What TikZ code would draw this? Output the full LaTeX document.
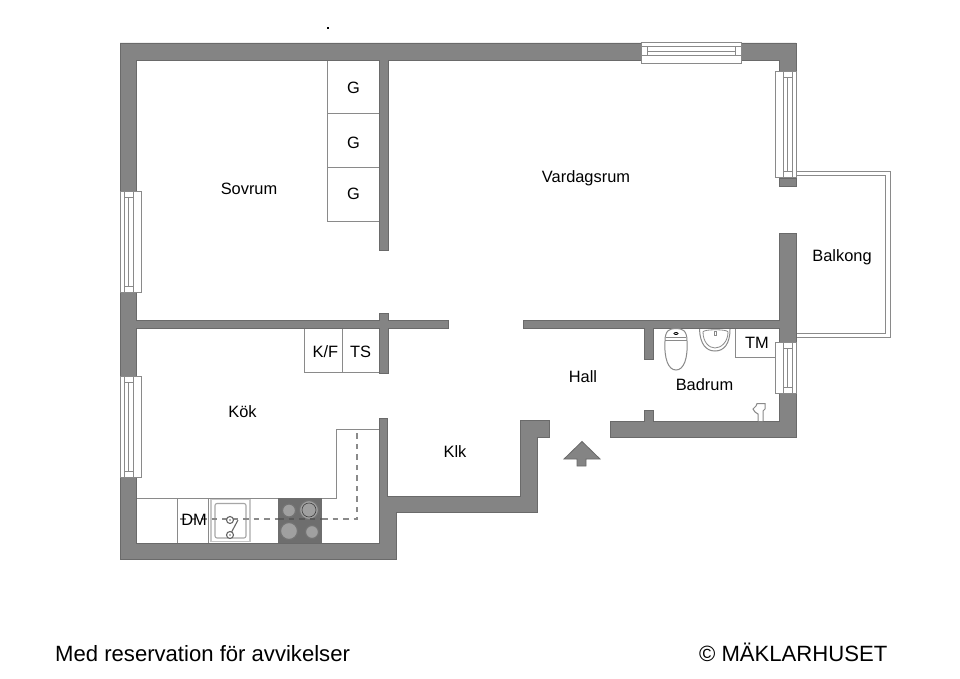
\documentclass[tikz,border=0pt]{standalone}
\usepackage{fontspec}
\setmainfont{Liberation Sans}
\definecolor{wallfill}{HTML}{848484}
\definecolor{walledge}{HTML}{6A6A6A}
\definecolor{thin}{HTML}{8A8A8A}
\definecolor{stovedark}{HTML}{6E6E6E}
\definecolor{burner}{HTML}{A0A0A0}
\tikzset{
  wall/.style={fill=wallfill,draw=walledge,line width=0.8pt,line join=miter},
  fixture/.style={draw=thin,line width=1pt,fill=white},
  winline/.style={draw=thin,line width=1pt},
  lbl/.style={font=\fontsize{16.4}{19}\selectfont,text=black,inner sep=0pt},
  foot/.style={font=\fontsize{22.1}{26}\selectfont,text=black,inner sep=0pt},
  dashline/.style={draw=thin,line width=1.3pt,dash pattern=on 5.5pt off 5pt},
}
% horizontal window: x0, x1, outer y, direction of the inside
\newcommand{\winH}[4]{%
  \draw[fixture] (#1,#3) rectangle (#2,{#3+#4*21});
  \draw[winline] (#1,{#3+#4*4}) -- (#2,{#3+#4*4});
  \draw[winline] (#1,{#3+#4*13}) -- (#2,{#3+#4*13});
  \draw[winline] ({#1+6},{#3+#4*8.5}) -- ({#2-6},{#3+#4*8.5});
  \draw[winline] ({#1+6},{#3+#4*4}) -- ({#1+6},{#3+#4*13});
  \draw[winline] ({#2-6},{#3+#4*4}) -- ({#2-6},{#3+#4*13});
}
% vertical window: y0, y1, outer x, direction of the inside
\newcommand{\winV}[4]{%
  \draw[fixture] (#3,#1) rectangle ({#3+#4*21},#2);
  \draw[winline] ({#3+#4*4},#1) -- ({#3+#4*4},#2);
  \draw[winline] ({#3+#4*13},#1) -- ({#3+#4*13},#2);
  \draw[winline] ({#3+#4*8.5},{#1+6}) -- ({#3+#4*8.5},{#2-6});
  \draw[winline] ({#3+#4*4},{#1+6}) -- ({#3+#4*13},{#1+6});
  \draw[winline] ({#3+#4*4},{#2-6}) -- ({#3+#4*13},{#2-6});
}
\begin{document}
\begin{tikzpicture}[x=1pt,y=-1pt]
\useasboundingbox (0,0) rectangle (960,679);
\fill[white] (0,0) rectangle (960,679);
\fill[black] (327,27.5) rectangle (329,29);

% balcony
\draw[winline] (796,171.5) -- (890,171.5) -- (890,337) -- (796,337);
\draw[winline] (796,176) -- (885.5,176) -- (885.5,333) -- (796,333);

% closets and kitchen furniture
\draw[fixture] (327,60) rectangle (380,114);
\draw[fixture] (327,114) rectangle (380,167.5);
\draw[fixture] (327,167.5) rectangle (380,221);
\draw[fixture] (304,328) rectangle (342,372);
\draw[fixture] (342,328) rectangle (380,372);
\draw[fixture] (735,328) rectangle (779,357);
\draw[fixture] (136,498) -- (336,498) -- (336,429) -- (379,429);
\draw[winline] (177,498) -- (177,543);
\draw[winline] (208,498) -- (208,543);

% sink
\draw[draw=black!22,line width=1.8pt,fill=white] (211,499.5) rectangle (250,541.5);
\draw[draw=black!35,line width=1.1pt,rounded corners=2pt] (215,503.5) rectangle (246,538);
\draw[black!60,line width=1.1pt] (230,535) -- (238,520);

% stove
\fill[stovedark] (278,498) rectangle (322,543);
\draw[black!55,fill=burner,line width=1.2pt] (289,510.5) circle (6.5);
\draw[black!55,fill=burner,line width=1.2pt] (309,510) circle (9.5);
\draw[black!75,line width=0.6pt] (309,510) circle (7);
\draw[black!55,fill=burner,line width=1.2pt] (289,531) circle (8.5);
\draw[black!55,fill=burner,line width=1.2pt] (312,532) circle (6.5);

% dashed line
\draw[dashline] (180,519) -- (278,519);
\draw[dashline,draw=black!65] (278,519) -- (322,519);
\draw[dashline] (322,519) -- (357,519) -- (357,429);

\draw[black!60,line width=1.1pt,fill=white] (230,520) circle (3.5);
\draw[black!60,line width=1.1pt,fill=white] (230,535) circle (3.5);
\fill[black!60] (230,520) circle (0.8);
\fill[black!60] (230,535) circle (0.8);

% walls
\draw[wall] (120,191) -- (120,43) -- (641,43) -- (641,60) -- (388,60) -- (388,250) -- (379,250) -- (379,60) -- (136,60) -- (136,191) -- cycle;
\draw[wall] (741,43) -- (796,43) -- (796,72) -- (779,72) -- (779,60) -- (741,60) -- cycle;
\draw[wall] (779,178) rectangle (796,186);
\draw[wall] (120,292) -- (136,292) -- (136,320) -- (379,320) -- (379,313) -- (388,313) -- (388,320) -- (448,320) -- (448,328) -- (388,328) -- (388,373) -- (379,373) -- (379,328) -- (136,328) -- (136,376) -- (120,376) -- cycle;
\draw[wall] (120,477) -- (136,477) -- (136,543) -- (379,543) -- (379,418) -- (387,418) -- (387,496) -- (520,496) -- (520,420) -- (549,420) -- (549,437) -- (537,437) -- (537,512) -- (396,512) -- (396,559) -- (120,559) -- cycle;
\draw[wall] (779,233) -- (796,233) -- (796,342) -- (779,342) -- (779,328) -- (653,328) -- (653,359) -- (644,359) -- (644,328) -- (523,328) -- (523,320) -- (779,320) -- cycle;
\draw[wall] (779,393) -- (796,393) -- (796,437) -- (610,437) -- (610,421) -- (644,421) -- (644,410) -- (653,410) -- (653,421) -- (779,421) -- cycle;

% windows
\winH{641}{741}{43}{1}
\winV{72}{178}{796}{-1}
\winV{342}{393}{796}{-1}
\winV{191}{292}{120}{1}
\winV{376}{477}{120}{1}

% entrance arrow
\draw[wall] (582,441.5) -- (600,459) -- (586,459) -- (586,466) -- (577,466) -- (577,459) -- (564,459) -- cycle;

% toilet
\draw[fixture] (665,341) .. controls (665,330) and (670,328.5) .. (676,328.5) .. controls (682,328.5) and (687,330) .. (687,341) .. controls (688,358) and (684,370) .. (676,370) .. controls (668,370) and (664,358) .. (665,341) -- cycle;
\draw[winline] (665,340) -- (687,340);
\draw[winline] (666,337) -- (686,337);
\draw[thin,line width=0.8pt] (676,333.5) ellipse (2 and 1);
% basin
\draw[fixture] (699.5,329) .. controls (700,344) and (706,351) .. (715,351) .. controls (724,351) and (730,344) .. (730,329);
\draw[winline,line width=0.8pt] (703,332) .. controls (703,342) and (709,348) .. (715,348) .. controls (721,348) and (728,342) .. (728,332) .. controls (728,329) and (703,329) .. (703,332) -- cycle;
\draw[winline,line width=0.8pt] (714,331) -- (714,335.5) -- (716.5,335.5) -- (716.5,331) -- cycle;
% bathroom tap
\draw[fixture] (758,421) -- (758,414) -- (755,412) -- (753,409) -- (756,406) -- (757,403.5) -- (765,403.5) -- (765,409) -- (763,411) -- (763,421);

% texts
\node[lbl] (g1) at (353.5,88) {G};
\node[lbl] (g2) at (353.5,143) {G};
\node[lbl] (g3) at (353.5,194) {G};
\node[lbl] (sovrum) at (249,189) {Sovrum};
\node[lbl] (vardagsrum) at (586,178) {Vardagsrum};
\node[lbl] (balkong) at (842,257) {Balkong};
\node[lbl] (kf) at (325.5,352) {K/F};
\node[lbl] (ts) at (360.5,352) {TS};
\node[lbl] (tm) at (757,342.5) {TM};
\node[lbl] (hall) at (583,377) {Hall};
\node[lbl] (badrum) at (704.5,385) {Badrum};
\node[lbl] (kok) at (242.5,412) {Kök};
\node[lbl] (klk) at (455,452) {Klk};
\node[lbl] (dm) at (194,520) {DM};
\node[foot,anchor=base west] (res) at (55,661) {Med reservation för avvikelser};
\node[foot,anchor=base east] (copy) at (887.5,661) {© MÄKLARHUSET};
\end{tikzpicture}
\end{document}
